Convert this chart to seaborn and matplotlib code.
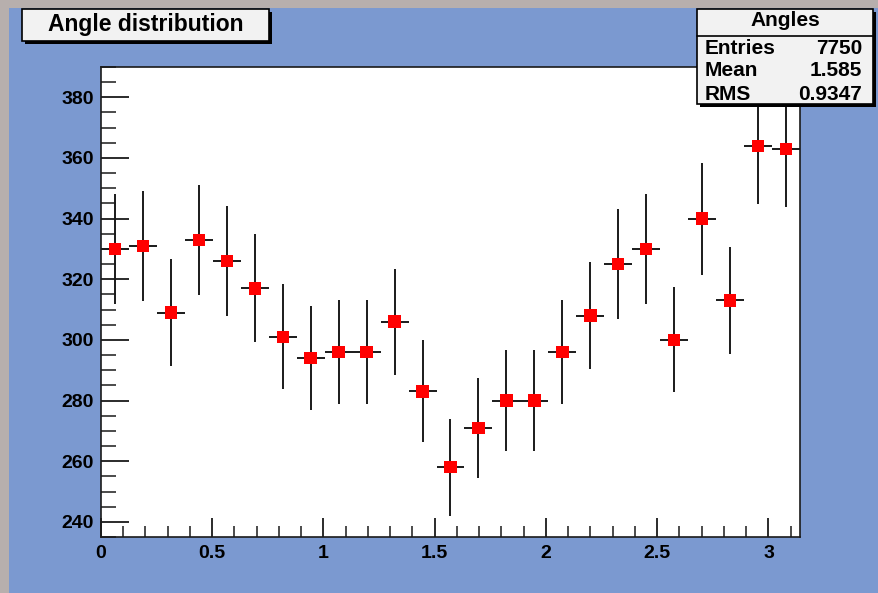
import numpy as np
import pandas as pd
import matplotlib
matplotlib.use('Agg')
import matplotlib.pyplot as plt
from matplotlib.patches import Rectangle
from matplotlib.ticker import MultipleLocator
import seaborn as sns

#%% Data (25 bins over [0, pi])
counts = [330, 331, 309, 333, 326, 317, 301, 294, 296, 296, 306, 283, 258,
          271, 280, 280, 296, 308, 325, 330, 300, 340, 313, 364, 363]
hist_title = 'Angle distribution'
stat_name = 'Angles'
stat_labels = ['Entries', 'Mean', 'RMS']
stat_values = ['7750', '1.585', '0.9347']

edges = np.linspace(0, np.pi, len(counts) + 1)
df = pd.DataFrame({'angle': 0.5 * (edges[:-1] + edges[1:]),
                   'n': counts})
df['err'] = np.sqrt(df['n'])
half_w = 0.5 * (edges[1] - edges[0])

#%% Plot
sns.set_style('ticks')
plt.rcParams['font.family'] = ['Liberation Sans', 'DejaVu Sans']
plt.rcParams['font.weight'] = 'bold'
plt.rcParams['text.color'] = 'black'

W, H = 879, 593
fig = plt.figure(figsize=(W / 100, H / 100), dpi=100, facecolor='#b7afad')
fig.patches.append(Rectangle((9 / W, 0), 1 - 9 / W, 1 - 8 / H,
                             transform=fig.transFigure, facecolor='#7b99d0',
                             edgecolor='none', zorder=-5))

ax = fig.add_axes([101 / W, 56 / H, 699 / W, 470 / H])
ax.set_facecolor('white')
ax.errorbar(df['angle'], df['n'], xerr=half_w, yerr=df['err'], fmt='none',
            ecolor='#1a1a1a', elinewidth=1.4, capsize=0, zorder=2)
sns.scatterplot(x='angle', y='n', data=df, marker='s', s=80, color='#ff0000',
                edgecolor='none', ax=ax, zorder=3)

ax.set_xlim(0, np.pi)
ax.set_ylim(235, 390)
ax.set_xlabel('')
ax.set_ylabel('')
ax.xaxis.set_major_locator(MultipleLocator(0.5))
ax.xaxis.set_minor_locator(MultipleLocator(0.1))
ax.yaxis.set_major_locator(MultipleLocator(20))
ax.yaxis.set_minor_locator(MultipleLocator(5))
ax.xaxis.set_major_formatter(plt.FuncFormatter(lambda v, p: f'{v:g}'))
ax.tick_params(axis='x', which='major', direction='in', length=14, width=1.3,
               labelsize=14, pad=6, color='#1a1a1a', labelcolor='black')
ax.tick_params(axis='x', which='minor', direction='in', length=8, width=1.1,
               color='#1a1a1a')
ax.tick_params(axis='y', which='major', direction='in', length=20, width=1.3,
               labelsize=14, pad=5, color='#1a1a1a', labelcolor='black')
ax.tick_params(axis='y', which='minor', direction='in', length=11, width=1.1,
               color='#1a1a1a')
for lab in ax.get_xticklabels() + ax.get_yticklabels():
    lab.set_fontweight('bold')
for sp in ax.spines.values():
    sp.set_linewidth(1.2)
    sp.set_color('#1a1a1a')

# boxes with shadow, pixel coords from top-left
def box(x0, y0, x1, y1):
    fig.patches.append(Rectangle((x0 / W + 3 / W, 1 - y1 / H - 3 / H),
                                 (x1 - x0) / W, (y1 - y0) / H,
                                 transform=fig.transFigure, facecolor='black',
                                 edgecolor='none', zorder=5))
    fig.patches.append(Rectangle((x0 / W, 1 - y1 / H), (x1 - x0) / W,
                                 (y1 - y0) / H, transform=fig.transFigure,
                                 facecolor='#f2f2f2', edgecolor='black',
                                 linewidth=1.2, zorder=6))

box(22, 9, 269, 41)
fig.text(146 / W, 1 - 25 / H, hist_title, ha='center', va='center',
         fontsize=16.5, fontweight='bold', zorder=7)

# stats box
box(697, 9, 873, 104)
fig.lines.append(plt.Line2D([697 / W, 873 / W], [1 - 36 / H, 1 - 36 / H],
                            transform=fig.transFigure, color='black',
                            linewidth=1.2, zorder=7))
fig.text(785 / W, 1 - 21 / H, stat_name, ha='center', va='center',
         fontsize=15, fontweight='bold', zorder=7)
for i, (lab, val) in enumerate(zip(stat_labels, stat_values)):
    y = 1 - (48 + 23 * i) / H
    fig.text(705 / W, y, lab, ha='left', va='center', fontsize=15,
             fontweight='bold', zorder=7)
    fig.text(862 / W, y, val, ha='right', va='center', fontsize=15,
             fontweight='bold', zorder=7)

plt.savefig('out.png', dpi=100, facecolor=fig.get_facecolor())
